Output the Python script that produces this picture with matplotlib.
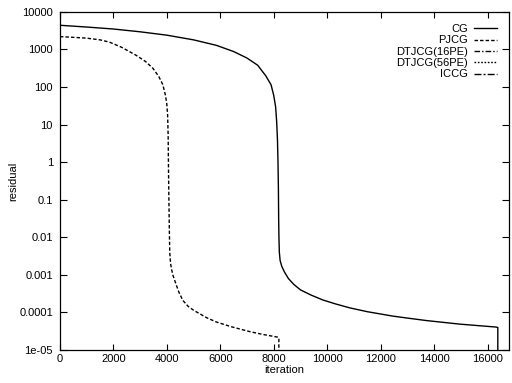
#!/usr/bin/env python

import numpy as np
import matplotlib
matplotlib.use('Agg')
import matplotlib.pyplot as plt
from matplotlib.ticker import FixedLocator, LogLocator, NullFormatter

plt.rcParams['font.family'] = ['Liberation Sans', 'DejaVu Sans']

# last point of each run drops off the bottom
cg_iter = [0, 1000, 2000, 3000, 4000, 5000, 5850, 6500, 7000, 7400, 7700,
           7900, 8000, 8070, 8110, 8140, 8160, 8175, 8185, 8195, 8210,
           8240, 8300, 8400, 8550, 8750, 9000, 9400, 9840, 10300, 10840,
           11500, 12460, 13000, 13710, 14300, 14960, 15600, 16310, 16384,
           16384]
cg_res = [4400, 3950, 3500, 2950, 2400, 1800, 1290, 880, 590, 380, 200,
          115, 60, 30, 12, 4, 1, 0.2, 0.03, 0.01, 0.004,
          0.0024, 0.0017, 0.0012, 8e-4, 5.6e-4, 4.0e-4, 2.9e-4, 2.15e-4,
          1.7e-4, 1.33e-4, 1.05e-4, 8.0e-5, 7.1e-5, 6.1e-5, 5.5e-5, 4.9e-5,
          4.5e-5, 4.1e-5, 4.0e-5, 1e-9]

pjcg_iter = [0, 500, 1000, 1500, 1850, 2300, 2850, 3200, 3480, 3700, 3850,
             3950, 4000, 4030, 4050, 4065, 4080, 4095, 4110, 4140, 4180,
             4225, 4350, 4450, 4600, 4800, 5000, 5225, 5500, 5850, 6400,
             7100, 7600, 8160, 8192, 8192]
pjcg_res = [2200, 2100, 2000, 1800, 1570, 1150, 700, 480, 315, 190, 116,
            60, 35, 18, 5, 0.5, 0.08, 0.015, 0.004, 0.002, 0.0014,
            1.0e-3, 5.5e-4, 3.5e-4, 2.1e-4, 1.45e-4, 1.15e-4, 9.3e-5, 7.2e-5,
            5.6e-5, 4.2e-5, 3.1e-5, 2.6e-5, 2.2e-5, 2.1e-5, 1e-9]

# the remaining runs are hidden under the curves above in the reference
dt16_iter, dt16_res = [], []
dt56_iter, dt56_res = [], []
iccg_iter, iccg_res = [], []

yticks = [1e4, 1e3, 1e2, 1e1, 1, 0.1, 0.01, 0.001, 0.0001, 1e-5]
ylabels = ['10000', '1000', '100', '10', '1', '0.1', '0.01', '0.001',
           '0.0001', '1e-05']
xticks = list(range(0, 16001, 2000))


def main():
    fig = plt.figure(figsize=(5.12, 3.83), dpi=100)
    ax = fig.add_axes([0.117, 0.086, 0.877, 0.883])

    ax.plot(cg_iter, cg_res, color='black', lw=1.0, ls='-', label='CG')
    ax.plot(pjcg_iter, pjcg_res, color='black', lw=1.0, ls=(0, (2.5, 1.5)),
            label='PJCG')
    ax.plot(dt16_iter, dt16_res, color='black', lw=1.0,
            ls=(0, (4, 1.5, 1, 1.5)), label='DTJCG(16PE)')
    ax.plot(dt56_iter, dt56_res, color='black', lw=1.0, ls=(0, (1.2, 1.2)),
            label='DTJCG(56PE)')
    ax.plot(iccg_iter, iccg_res, color='black', lw=1.0,
            ls=(0, (5, 1.5, 1.5, 1.5)), label='ICCG')

    ax.set_yscale('log')
    ax.set_ylim(1e-5, 1e4)
    ax.set_xlim(0, 16800)

    ax.yaxis.set_major_locator(FixedLocator(yticks))
    ax.set_yticklabels(ylabels)
    ax.yaxis.set_minor_locator(LogLocator(base=10, subs=np.arange(2, 10)))
    ax.yaxis.set_minor_formatter(NullFormatter())
    ax.set_xticks(xticks)
    ax.set_xticklabels([str(x) for x in xticks])

    ax.tick_params(which='both', direction='in', top=True, right=True,
                   labelsize=8, width=0.8)
    ax.tick_params(axis='y', which='major', length=5, pad=5)
    ax.tick_params(axis='y', which='minor', length=2.5)
    ax.tick_params(axis='x', which='major', length=4, pad=3)
    for s in ax.spines.values():
        s.set_linewidth(0.9)

    ax.set_xlabel('iteration', fontsize=8, labelpad=0.5)
    ax.set_ylabel('residual', fontsize=8, labelpad=1)

    ax.legend(loc='upper right', frameon=False, markerfirst=False,
              fontsize=8, handlelength=2.0, handletextpad=0.6,
              labelspacing=0.12, borderaxespad=0.8, borderpad=0.3)

    fig.savefig('out.png', dpi=100)


if __name__ == '__main__':
    main()
